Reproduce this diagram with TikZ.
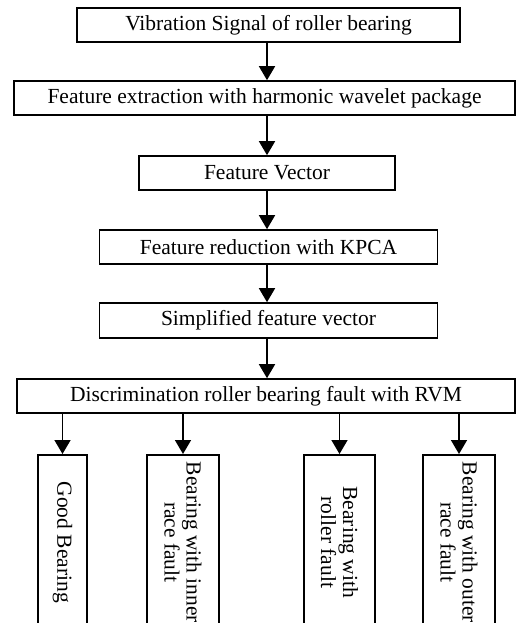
\documentclass[tikz,border=0pt]{standalone}
\usepackage{fontspec}
\setmainfont{Liberation Serif}
\usetikzlibrary{arrows.meta}
\begin{document}
\begin{tikzpicture}[x=1pt,y=-1pt,
  stage/.style={draw,line width=1.6pt,inner sep=0pt,minimum height=34pt,font=\fontsize{21.5}{24}\selectfont},
  leaf/.style={draw,line width=1.6pt,inner sep=0pt,rotate=-90,anchor=west,minimum width=175pt,align=center,font=\fontsize{21.5}{22}\selectfont},
  flow/.style={line width=1.6pt,-{Triangle[width=16pt,length=14pt]}}]
\useasboundingbox (0,0) rectangle (516,623);
\clip (0,0) rectangle (516,623);
% main chain of processing stages
\node[stage,minimum width=383pt] (sig) at (268.5,25) {Vibration Signal of roller bearing};
\node[stage,minimum width=501pt] (ext) at (264.5,98) {Feature extraction with harmonic wavelet package};
\node[stage,minimum width=256pt] (vec) at (267,173) {Feature Vector};
\node[stage,minimum width=338pt] (red) at (268.5,247) {Feature reduction with KPCA};
\node[stage,minimum width=338pt,minimum height=35pt] (sim) at (268.5,320.5) {Simplified feature vector};
\node[stage,minimum width=498pt] (rvm) at (266,396) {Discrimination roller bearing fault with RVM};
% fault classes
\node[leaf,minimum height=49pt] (good) at (62.5,454) {Good Bearing};
\node[leaf,minimum height=72pt] (inner) at (183,454) {Bearing with inner\\race fault};
\node[leaf,minimum height=71pt] (roller) at (339.5,454) {Bearing with\\roller fault};
\node[leaf,minimum height=72pt] (outer) at (459,454) {Bearing with outer\\race fault};
% connectors
\draw[flow] (sig.south -| 267,0) -- (ext.north -| 267,0);
\draw[flow] (ext.south -| 267,0) -- (vec.north -| 267,0);
\draw[flow] (vec.south -| 267,0) -- (red.north -| 267,0);
\draw[flow] (red.south -| 267,0) -- (sim.north -| 267,0);
\draw[flow] (sim.south -| 267,0) -- (rvm.north -| 267,0);
\draw[flow] (rvm.south -| good.west) -- (good.west);
\draw[flow] (rvm.south -| inner.west) -- (inner.west);
\draw[flow] (rvm.south -| roller.west) -- (roller.west);
\draw[flow] (rvm.south -| outer.west) -- (outer.west);
\end{tikzpicture}
\end{document}
